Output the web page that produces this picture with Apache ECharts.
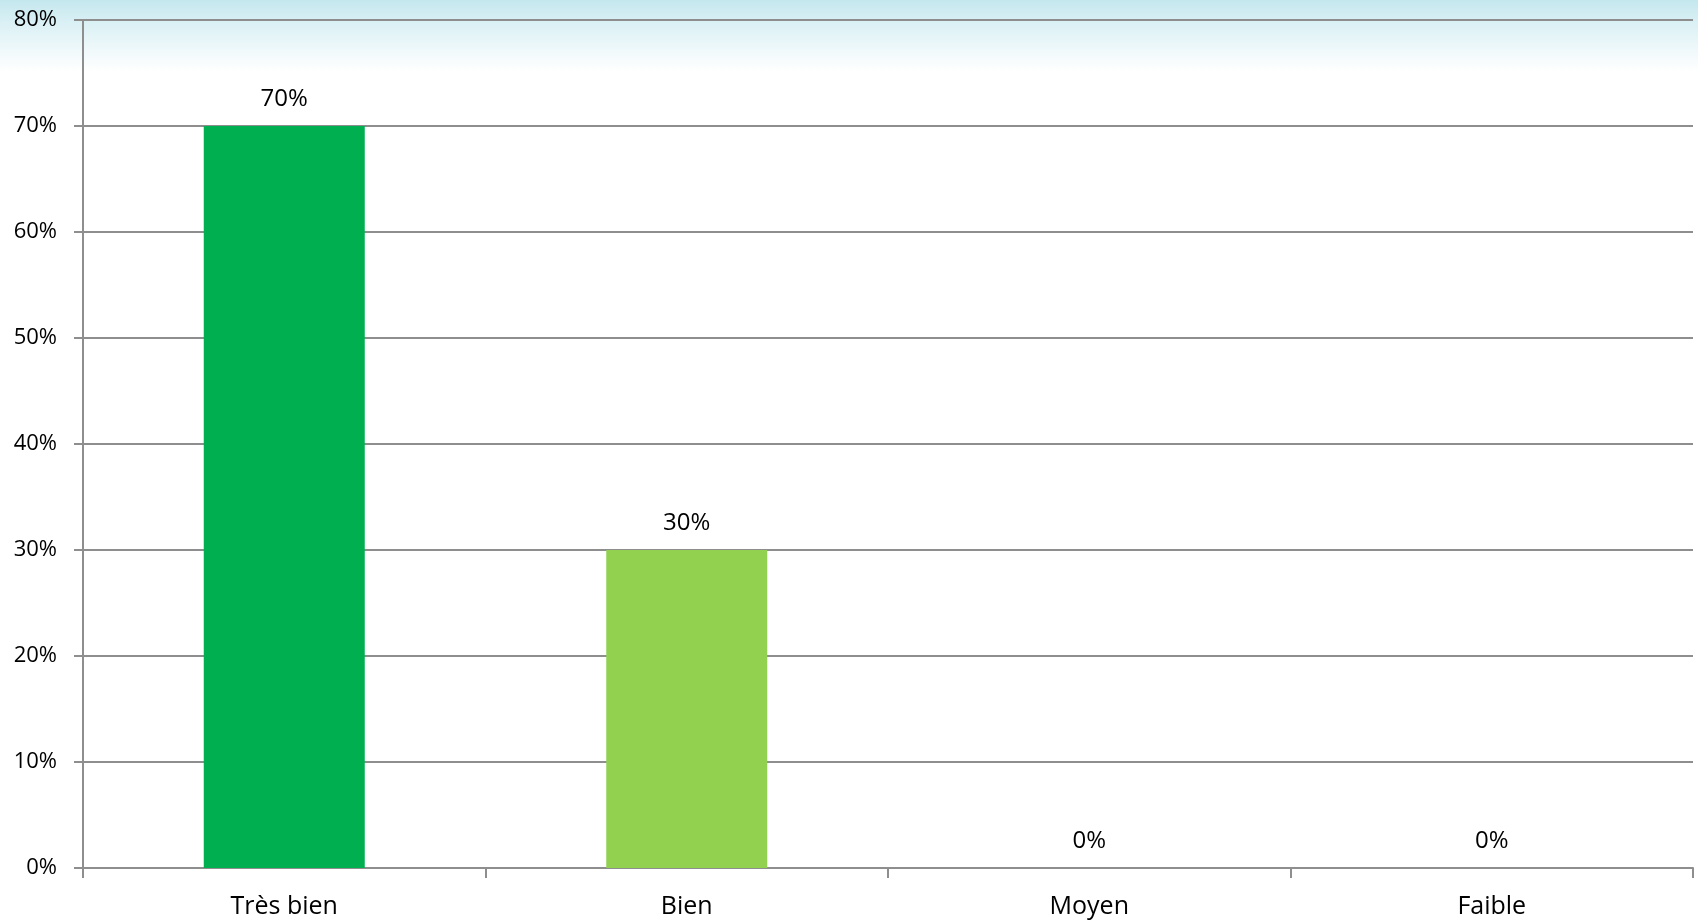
<!DOCTYPE html>
<html>
<head>
<meta charset="utf-8">
<script src="https://cdn.jsdelivr.net/npm/echarts@6/dist/echarts.min.js"></script>
<style>
html,body{margin:0;padding:0;background:#fff;}
#chart{width:1698px;height:923px;}
</style>
</head>
<body>
<div id="chart"></div>
<script>
const categories = ['Très bien', 'Bien', 'Moyen', 'Faible'];
const values = [0.70, 0.30, 0, 0];
const yTicks = [0, 0.1, 0.2, 0.3, 0.4, 0.5, 0.6, 0.7, 0.8];

const barColors = ['#00AF50', '#92D050', '#92D050', '#92D050'];
const font = '"Open Sans", "Liberation Sans", sans-serif';
const chart = echarts.init(document.getElementById('chart'), null, {renderer: 'canvas'});

chart.setOption({
  animation: false,
  backgroundColor: '#ffffff',
  graphic: [{
    type: 'rect',
    left: 0, top: 0, z: -10,
    shape: {width: 1698, height: 80},
    style: {
      fill: new echarts.graphic.LinearGradient(0, 0, 0, 1, [
        {offset: 0, color: '#c4e7ee'},
        {offset: 0.3, color: '#dbf1f5'},
        {offset: 0.6, color: '#eef8fa'},
        {offset: 0.9, color: '#ffffff'},
        {offset: 1, color: '#ffffff'}
      ])
    }
  }],
  grid: {left: 83, right: 5, top: 20, bottom: 55, containLabel: false},
  xAxis: {
    type: 'category',
    data: categories,
    boundaryGap: true,
    axisLine: {show: true, lineStyle: {color: '#8e8e8e', width: 2}},
    axisTick: {show: true, length: 10, alignWithLabel: false, lineStyle: {color: '#8e8e8e', width: 2}},
    axisLabel: {color: '#000', fontFamily: font, fontSize: 25, margin: 26}
  },
  yAxis: {
    type: 'value',
    min: yTicks[0],
    max: yTicks[yTicks.length - 1],
    interval: 0.1,
    axisLine: {show: true, lineStyle: {color: '#8e8e8e', width: 2}},
    axisTick: {show: true, length: 9, lineStyle: {color: '#8e8e8e', width: 2}},
    splitLine: {show: true, lineStyle: {color: '#8e8e8e', width: 2}},
    axisLabel: {
      color: '#000', fontFamily: font, fontSize: 22, margin: 26,
      formatter: v => Math.round(v * 100) + '%'
    }
  },
  series: [{
    type: 'bar',
    barWidth: '40%',
    data: values.map((v, i) => ({value: v, itemStyle: {color: barColors[i]}})),
    label: {
      show: true, position: 'top', distance: 15,
      color: '#000', fontFamily: font, fontSize: 24,
      formatter: p => Math.round(p.value * 100) + '%'
    }
  }]
});
</script>
</body>
</html>
